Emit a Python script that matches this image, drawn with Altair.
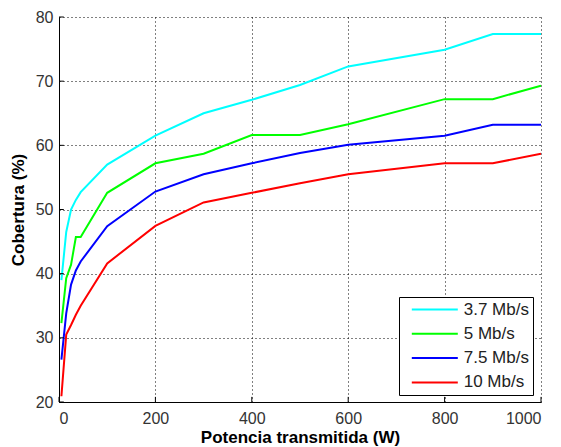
import altair as alt
import pandas as pd

x_vals = [5, 15, 25, 35, 45, 100, 200, 300, 400, 500, 600, 800, 900, 1000]
series_names = ["3.7 Mb/s", "5 Mb/s", "7.5 Mb/s", "10 Mb/s"]
cyan_vals = [39.0, 46.5, 50.0, 51.5, 52.7, 57.0, 61.5, 65.0, 67.1, 69.4, 72.3, 74.9, 77.35, 77.35]
green_vals = [32.3, 39.3, 41.4, 45.7, 45.7, 52.6, 57.2, 58.7, 61.6, 61.6, 63.3, 67.2, 67.2, 69.3]
blue_vals = [26.6, 33.8, 38.3, 40.5, 41.9, 47.4, 52.8, 55.5, 57.2, 58.8, 60.1, 61.5, 63.2, 63.2]
red_vals = [20.9, 30.5, 32.0, 33.6, 35.0, 41.6, 47.45, 51.1, 52.6, 54.1, 55.5, 57.2, 57.2, 58.7]
colors = ["#00FFFF", "#00FF00", "#0000FF", "#FF0000"]
x_ticks = [0, 200, 400, 600, 800, 1000]
y_ticks = [20, 30, 40, 50, 60, 70, 80]

rows = []
for name, vals in zip(series_names, [cyan_vals, green_vals, blue_vals, red_vals]):
    for i, (xv, yv) in enumerate(zip(x_vals, vals)):
        rows.append({"Potencia": xv, "Cobertura": yv, "Serie": name, "order": i})
df = pd.DataFrame(rows)

FONT = "Liberation Sans"

xscale = alt.Scale(domain=[0, 1000], nice=False)
yscale = alt.Scale(domain=[20, 80], nice=False)

lines = alt.Chart(df).mark_line(strokeWidth=2, clip=True).encode(
    x=alt.X("Potencia:Q", scale=xscale,
            axis=alt.Axis(title="Potencia transmitida (W)", values=x_ticks, format="d",
                          grid=True, gridDash=[1, 3], gridColor="black", gridOpacity=1,
                          domainColor="black", ticks=False, labelPadding=8,
                          labelFontSize=16, labelColor="#333", titleFontSize=17,
                          titleFontWeight="bold", titleColor="black", titlePadding=3,
                          labelFont=FONT, titleFont=FONT)),
    y=alt.Y("Cobertura:Q", scale=yscale,
            axis=alt.Axis(title="Cobertura (%)", values=y_ticks,
                          grid=True, gridDash=[1, 3], gridColor="black", gridOpacity=1,
                          domainColor="black", ticks=False, labelPadding=6,
                          labelFontSize=16, labelColor="#333", titleFontSize=17,
                          titleFontWeight="bold", titleColor="black", titlePadding=8,
                          labelFont=FONT, titleFont=FONT)),
    color=alt.Color("Serie:N", sort=series_names,
                    scale=alt.Scale(domain=series_names, range=colors),
                    legend=alt.Legend(title=None, orient="none", legendX=340, legendY=280,
                                      symbolType="M0.06,0H9.26", symbolStrokeWidth=2,
                                      symbolSize=100, labelFontSize=17, labelFont=FONT,
                                      labelColor="#222", strokeColor="black",
                                      fillColor="white", padding=4, rowPadding=6.3,
                                      labelOffset=43.7)),
    order="order:Q",
)

xt_df = pd.DataFrame({"t": x_ticks})
yt_df = pd.DataFrame({"t": y_ticks})

xticks_rule = alt.Chart(xt_df).mark_rule(color="black", strokeWidth=1).encode(
    x=alt.X("t:Q", scale=xscale), y=alt.datum(20, scale=yscale), y2=alt.datum(20.8)
)
yticks_rule = alt.Chart(yt_df).mark_rule(color="black", strokeWidth=1).encode(
    y=alt.Y("t:Q", scale=yscale), x=alt.datum(0, scale=xscale), x2=alt.datum(10)
)

chart = alt.layer(lines, xticks_rule, yticks_rule).properties(
    width=482, height=385,
    padding={"left": 59, "top": 17, "right": 20, "bottom": 45},
    autosize=alt.AutoSizeParams(type="none"),
    background="white",
).configure_view(stroke=None)

chart.save("out.html", embed_options={"renderer": "svg", "actions": False})
